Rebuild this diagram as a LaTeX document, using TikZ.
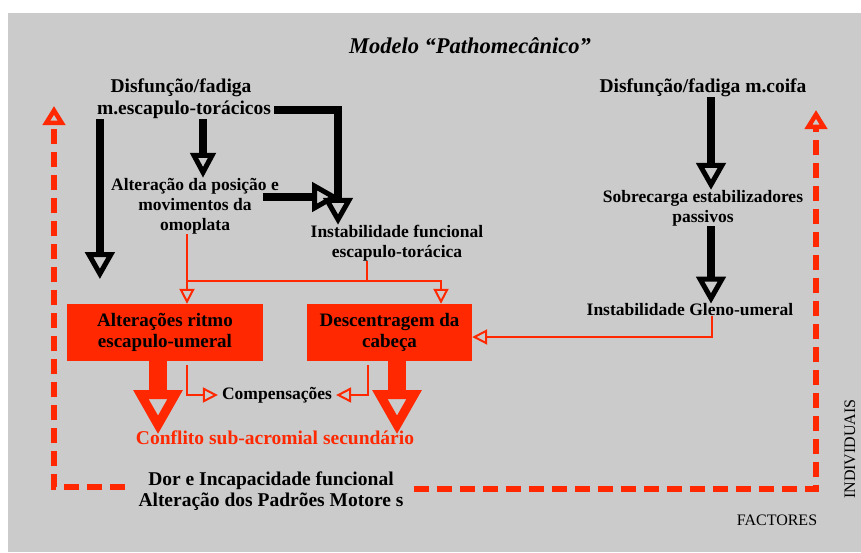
\documentclass[tikz,border=0pt]{standalone}
\usepackage{fontspec}
\setmainfont{Liberation Serif}
\usepackage{tikz}
\usetikzlibrary{positioning, arrows.meta, calc}
\definecolor{vermelho}{RGB}{255,40,0}
\definecolor{fundo}{RGB}{203,203,203}

\begin{document}
\begin{tikzpicture}[x=1pt, y=-1pt,
    txt/.style={font=\bfseries\fontsize{17.5}{20}\selectfont, align=center, inner sep=0pt},
    bigtxt/.style={font=\bfseries\fontsize{19.5}{21}\selectfont, align=center, inner sep=0pt},
    caixa/.style={fill=vermelho, minimum height=57pt, inner sep=0pt, align=center,
        font=\bfseries\fontsize{19}{21}\selectfont},
    seta/.style={line width=8pt, -{Triangle[open, length=27pt, width=29pt, line width=5pt]}},
    setaverm/.style={vermelho, line width=18pt, -{Triangle[open, length=44pt, width=47pt, line width=9pt]}},
    fina/.style={vermelho, line width=2pt, -{Triangle[open, length=15pt, width=15pt, line width=2pt]}},
    linha/.style={vermelho, line width=2pt},
    tracejada/.style={vermelho, line width=6pt, dash pattern=on 15pt off 8pt,
        -{Triangle[open, length=19pt, width=22pt, line width=4.5pt]}}]
    \useasboundingbox (0,0) rectangle (861,552);
    \fill[fundo] (8,13) rectangle (861,552);

    % Title
    \node[font=\bfseries\itshape\fontsize{22.5}{24}\selectfont, inner sep=0pt] (titulo) at (470,46) {Modelo “Pathomecânico”};

    % Left branch
    \node[bigtxt] (disfA) at (181,88) {Disfunção/fadiga};
    \node[bigtxt] (escap) at (184,110) {m.escapulo-torácicos};
    \node[txt] (omopl) at (195,206) {Alteração da posição e\\movimentos da\\omoplata};
    \node[txt] (instET) at (397,243) {Instabilidade funcional\\escapulo-torácica};

    % Right branch
    \node[bigtxt] (disfB) at (703,88) {Disfunção/fadiga m.coifa};
    \node[txt] (sobrec) at (703,208) {Sobrecarga estabilizadores\\passivos};
    \node[txt] (instGU) at (690,310) {Instabilidade Gleno-umeral};

    % Red boxes
    \node[caixa, minimum width=196pt] (ritmo) at (165,332.5) {Alterações ritmo\\escapulo-umeral};
    \node[caixa, minimum width=165pt] (descen) at (389.5,332.5) {Descentragem da\\cabeça};

    % Bottom texts
    \node[txt, inner xsep=4pt] (compen) at (277,395) {Compensações};
    \node[bigtxt, text=vermelho] (conflito) at (275,438) {Conflito sub-acromial secundário};
    \node[bigtxt] (dor) at (271,491) {Dor e Incapacidade funcional\\Alteração dos Padrões Motore s};
    \node[font=\fontsize{16}{18}\selectfont, rotate=90, inner sep=0pt] (indiv) at (850,449) {INDIVIDUAIS};
    \node[font=\fontsize{16}{18}\selectfont, inner sep=0pt] (factor) at (777,520) {FACTORES};

    % Black arrows
    \draw[seta] ([xshift=3pt]escap.south west) -- ++(0,160);
    \draw[seta, -{Triangle[open, length=25pt, width=25pt, line width=5pt]}]
        ([xshift=19pt]escap.south) -- ([xshift=8pt]omopl.north);
    \draw[seta] ([xshift=3pt]escap.east) -| ([xshift=-59pt]instET.north);
    \draw[seta] ($(omopl.east)+(-16,-9)$) -- ($(omopl.east)+(60,-9)$);
    \draw[seta] ([xshift=8pt]disfB.south) -- ([xshift=8pt]sobrec.north);
    \draw[seta] ([xshift=8pt]sobrec.south) -- ([xshift=21pt]instGU.north);

    % Thin red connectors
    \coordinate (bifurca) at (187,281);
    \coordinate (cET) at ([xshift=-30pt]instET.south);
    \draw[fina] (omopl.south -| bifurca) -- (ritmo.north -| bifurca);
    \draw[fina] (bifurca) -| ([xshift=51.5pt]descen.north);
    \draw[linha] (cET) -- (cET |- bifurca);
    \draw[fina] ([xshift=22pt]instGU.south) |- ([yshift=-4.5pt]descen.east);
    \draw[fina] ([xshift=22pt, yshift=-4pt]ritmo.south) |- (compen.west);
    \draw[fina] ([xshift=-21.5pt, yshift=-4pt]descen.south) |- (compen.east);

    % Thick red arrows
    \draw[setaverm] ([xshift=-7pt]ritmo.south) -- ++(0,73);
    \draw[setaverm] ([xshift=7.5pt]descen.south) -- ++(0,73);

    % Dashed feedback loops
    \coordinate (topoE) at (54,106);
    \coordinate (topoD) at (816,110);
    \draw[tracejada] ([xshift=-13pt, yshift=4pt]dor.west) -| (topoE);
    \draw[tracejada] ([xshift=10pt, yshift=2pt]dor.east) -| (topoD);
\end{tikzpicture}
\end{document}
